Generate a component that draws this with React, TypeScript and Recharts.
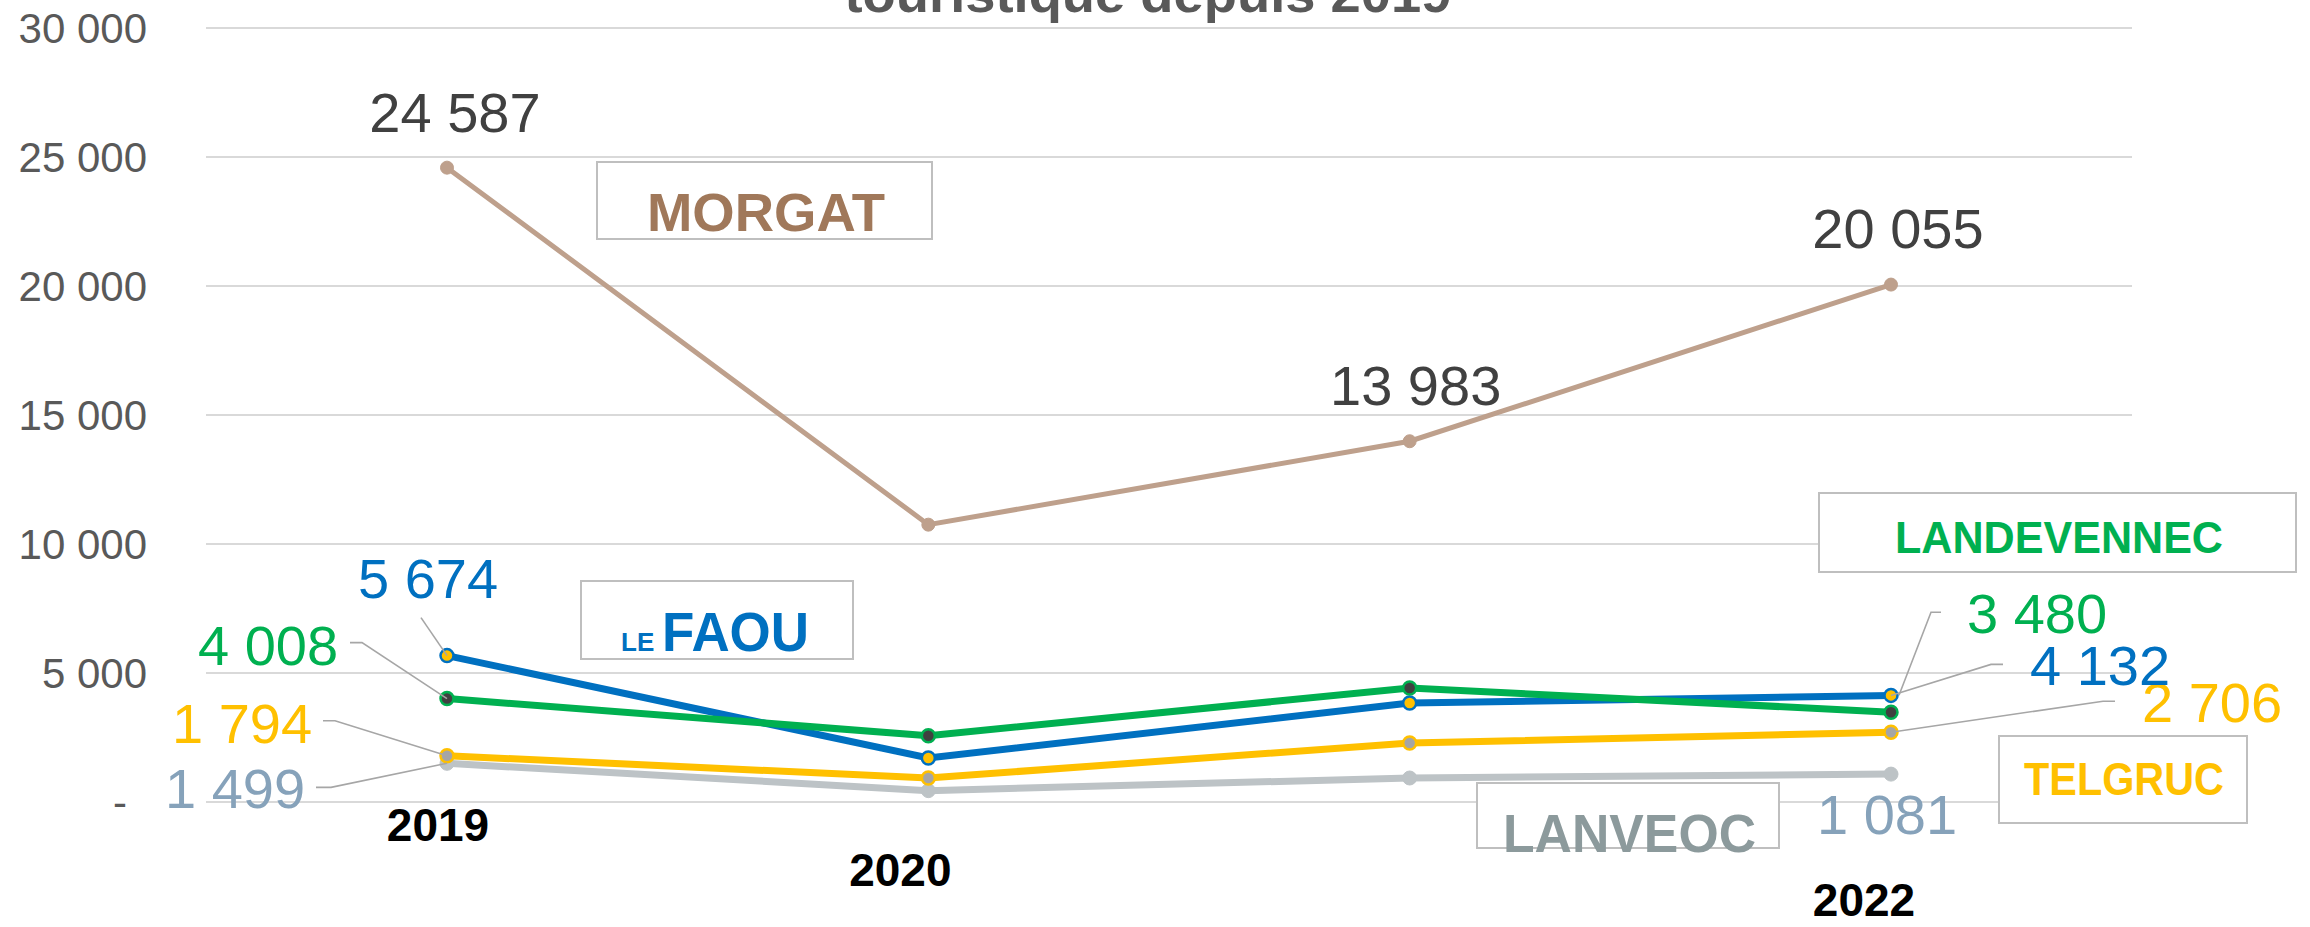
import { LineChart, Line, XAxis, YAxis, CartesianGrid, LabelList } from "recharts";

// ─── Data ────────────────────────────────────────────────────────────────────

const categories = ["2019", "2020", "2021", "2022"];
const yearTickLabels = ["2019", "2020", "", "2022"];
const yTicks = [0, 5000, 10000, 15000, 20000, 25000, 30000];

const morgat = [24587, 10750, 13983, 20055];
const leFaou = [5674, 1705, 3837, 4132];
const landevennec = [4008, 2570, 4420, 3480];
const telgruc = [1794, 930, 2287, 2706];
const lanveoc = [1499, 440, 930, 1081];

const data = categories.map((year, i) => ({
	year,
	morgat: morgat[i],
	leFaou: leFaou[i],
	landevennec: landevennec[i],
	telgruc: telgruc[i],
	lanveoc: lanveoc[i],
}));

// ─── Styling ─────────────────────────────────────────────────────────────────

const FONT = '"Liberation Sans", Arial, sans-serif';
const W = 2310;
const H = 927;

const colors = {
	morgat: "#BEA08C",
	morgatText: "#A0785A",
	blue: "#0070C0",
	green: "#00B050",
	yellow: "#FFC000",
	grayLine: "#BDC3C6",
	grayText: "#86A2BA",
	grayName: "#8C9A9C",
	labelDark: "#404040",
	axis: "#595959",
	grid: "#D9D9D9",
	leader: "#A6A6A6",
	box: "#BFBFBF",
};

// label placement relative to the point (Excel-style manual positions)
type Spot = { dx: number; dy: number; leader?: [number, number][]; end?: [number, number] } | null;

const morgatSpots: Spot[] = [{ dx: 8, dy: -36 }, null, { dx: 6, dy: -36 }, { dx: 7, dy: -37 }];
const leFaouSpots: Spot[] = [
	{ dx: -19, dy: -58, leader: [[-26, -38]] },
	null,
	null,
	{ dx: 209, dy: -10, leader: [[112, -31], [100, -31]] },
];
const landevennecSpots: Spot[] = [
	{ dx: -179, dy: -34, leader: [[-97, -56], [-85, -56]] },
	null,
	null,
	{ dx: 146, dy: -79, leader: [[50, -100], [40, -100]], end: [8, -17] },
];
const telgrucSpots: Spot[] = [
	{ dx: -205, dy: -13, leader: [[-124, -35], [-112, -35]] },
	null,
	null,
	{ dx: 321, dy: -10, leader: [[224, -31], [212, -31]] },
];
const lanveocSpots: Spot[] = [
	{ dx: -212, dy: 45, leader: [[-131, 24], [-116, 24]] },
	null,
	null,
	{ dx: -4, dy: 60 },
];

const yearTickShift = [
	{ dx: -9, dy: 39 },
	{ dx: -28, dy: 84 },
	{ dx: 0, dy: 0 },
	{ dx: -27, dy: 114 },
];

function fmt(v: number) {
	if (v === 0) return "-";
	return String(Math.round(v)).replace(/\B(?=(\d{3})+(?!\d))/g, " ");
}

function dataLabel(spots: Spot[], color: string) {
	return (props: any) => {
		const { x, y, index, value } = props;
		const spot = spots[index];
		if (!spot || x == null || y == null) return null;
		const end = spot.end ?? [0, 0];
		const pts = spot.leader
			? [...spot.leader, end].map(([a, b]) => `${x + a},${y + b}`).join(" ")
			: null;
		return (
			<g key={`lbl-${index}`}>
				{pts && <polyline points={pts} fill="none" stroke={colors.leader} strokeWidth={1.6} />}
				<text
					x={x + spot.dx}
					y={y + spot.dy}
					textAnchor="middle"
					fill={color}
					fontSize={56}
					fontFamily={FONT}
				>
					{fmt(value)}
				</text>
			</g>
		);
	};
}

function YTick(props: any) {
	const { x, y, payload } = props;
	const zero = payload.value === 0;
	return (
		<text
			x={zero ? x - 20 : x}
			y={y}
			dy="0.355em"
			textAnchor="end"
			fill={colors.axis}
			fontSize={42}
			fontFamily={FONT}
		>
			{fmt(payload.value)}
		</text>
	);
}

function XTick(props: any) {
	const { x, y, index } = props;
	const label = yearTickLabels[index];
	if (!label) return null;
	const shift = yearTickShift[index];
	return (
		<text
			x={x + shift.dx}
			y={y + shift.dy}
			textAnchor="middle"
			fill="#000"
			fontSize={46}
			fontWeight="bold"
			fontFamily={FONT}
		>
			{label}
		</text>
	);
}

// ─── Series name boxes + title ───────────────────────────────────────────────

function NameBox({
	x,
	y,
	w,
	h,
	children,
}: {
	x: number;
	y: number;
	w: number;
	h: number;
	children: any;
}) {
	return (
		<g>
			<rect x={x} y={y} width={w} height={h} fill="#fff" stroke={colors.box} strokeWidth={2} />
			{children}
		</g>
	);
}

function Overlay() {
	const bold = { fontFamily: FONT, fontWeight: "bold" as const };
	return (
		<svg
			width={W}
			height={H}
			style={{ position: "absolute", left: 0, top: 0, pointerEvents: "none" }}
		>
			<text
				x={1148}
				y={12}
				textAnchor="middle"
				fill={colors.axis}
				fontSize={52}
				textLength={607}
				lengthAdjust="spacingAndGlyphs"
				{...bold}
			>
				touristique depuis 2019
			</text>
			<NameBox x={597} y={162} w={335} h={77}>
				<text x={647} y={231} fontSize={54} fill={colors.morgatText} textLength={238} lengthAdjust="spacingAndGlyphs" {...bold}>
					MORGAT
				</text>
			</NameBox>
			<NameBox x={581} y={581} w={272} h={78}>
				<text x={621} y={651} fontSize={26} fill={colors.blue} {...bold}>
					LE
				</text>
				<text x={662} y={651} fontSize={56} fill={colors.blue} textLength={147} lengthAdjust="spacingAndGlyphs" {...bold}>
					FAOU
				</text>
			</NameBox>
			<NameBox x={1819} y={493} w={477} h={79}>
				<text x={1895} y={553} fontSize={45} fill={colors.green} textLength={328} lengthAdjust="spacingAndGlyphs" {...bold}>
					LANDEVENNEC
				</text>
			</NameBox>
			<NameBox x={1999} y={736} w={248} h={87}>
				<text x={2024} y={795} fontSize={46} fill={colors.yellow} textLength={200} lengthAdjust="spacingAndGlyphs" {...bold}>
					TELGRUC
				</text>
			</NameBox>
			<NameBox x={1477} y={783} w={302} h={65}>
				<text x={1503} y={852} fontSize={54} fill={colors.grayName} textLength={253} lengthAdjust="spacingAndGlyphs" {...bold}>
					LANVEOC
				</text>
			</NameBox>
		</svg>
	);
}

// ─── Chart ───────────────────────────────────────────────────────────────────

export default function App() {
	return (
		<div style={{ position: "relative", width: W, height: H, background: "#fff" }}>
			<style>{`body{margin:0}`}</style>
			<LineChart
				width={W}
				height={H}
				data={data}
				margin={{ top: 28, right: 178, left: 126, bottom: 0 }}
			>
				<CartesianGrid vertical={false} stroke={colors.grid} strokeWidth={2} />
				<XAxis
					dataKey="year"
					axisLine={false}
					tickLine={false}
					tickSize={0}
					tickMargin={0}
					height={125}
					padding={{ left: 241, right: 241 }}
					tick={XTick}
					interval={0}
				/>
				<YAxis
					domain={[0, 30000]}
					ticks={yTicks}
					axisLine={false}
					tickLine={false}
					tickSize={0}
					tickMargin={59}
					width={80}
					tick={YTick}
				/>
				<Line
					dataKey="morgat"
					stroke={colors.morgat}
					strokeWidth={5}
					dot={{ r: 6.5, fill: colors.morgat, stroke: colors.morgat, strokeWidth: 1 }}
					activeDot={false}
					isAnimationActive={false}
				>
					<LabelList dataKey="morgat" content={dataLabel(morgatSpots, colors.labelDark)} />
				</Line>
				<Line
					dataKey="lanveoc"
					stroke={colors.grayLine}
					strokeWidth={7}
					dot={{ r: 7, fill: colors.grayLine, stroke: colors.grayLine, strokeWidth: 1 }}
					activeDot={false}
					isAnimationActive={false}
				>
					<LabelList dataKey="lanveoc" content={dataLabel(lanveocSpots, colors.grayText)} />
				</Line>
				<Line
					dataKey="telgruc"
					stroke={colors.yellow}
					strokeWidth={7}
					dot={{ r: 6.5, fill: "#A5A5A5", stroke: colors.yellow, strokeWidth: 2.5 }}
					activeDot={false}
					isAnimationActive={false}
				>
					<LabelList dataKey="telgruc" content={dataLabel(telgrucSpots, colors.yellow)} />
				</Line>
				<Line
					dataKey="leFaou"
					stroke={colors.blue}
					strokeWidth={7}
					dot={{ r: 6.5, fill: colors.yellow, stroke: colors.blue, strokeWidth: 2.5 }}
					activeDot={false}
					isAnimationActive={false}
				>
					<LabelList dataKey="leFaou" content={dataLabel(leFaouSpots, colors.blue)} />
				</Line>
				<Line
					dataKey="landevennec"
					stroke={colors.green}
					strokeWidth={7}
					dot={{ r: 6.5, fill: "#404040", stroke: colors.green, strokeWidth: 2.5 }}
					activeDot={false}
					isAnimationActive={false}
				>
					<LabelList dataKey="landevennec" content={dataLabel(landevennecSpots, colors.green)} />
				</Line>
			</LineChart>
			<Overlay />
		</div>
	);
}
